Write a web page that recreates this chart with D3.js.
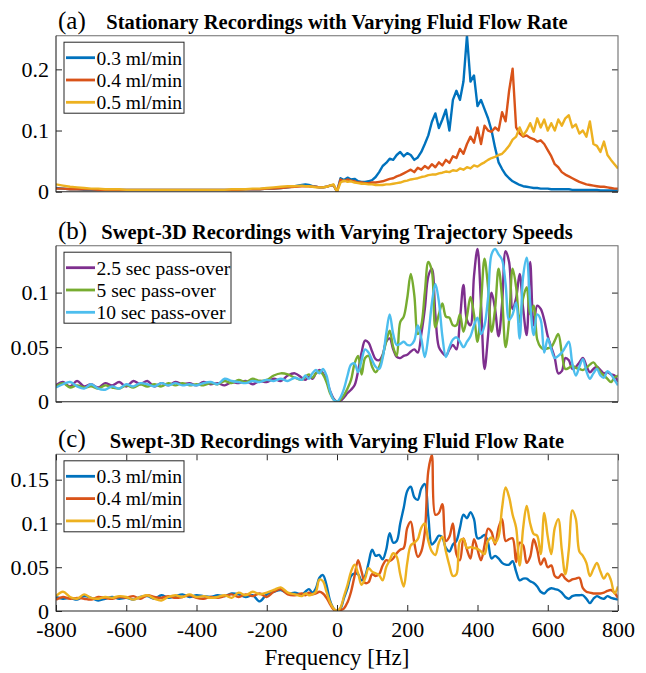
<!DOCTYPE html>
<html lang="en">
  <head>
    <meta charset="UTF-8" />
    <title>Spectra of recordings</title>
    <script src="https://d3js.org/d3.v7.min.js"></script>
    <style>
      body {
        margin: 0;
        background: #fff;
      }
      svg text {
        font-family: "Liberation Serif", "Times New Roman", serif;
        fill: #000;
      }
      .tick line {
        stroke: #262626;
      }
    </style>
  </head>
  <body>
    <div id="chart"></div>

    <script>
      // sample grid: 20 Hz steps on the flat negative side, 10 Hz from -90 Hz on
      const freq = d3.range(-800, -99, 20).concat(d3.range(-90, 801, 10));
      const xTicks = [-800, -600, -400, -200, 0, 200, 400, 600, 800];

      const flowNames = ["0.3 ml/min", "0.4 ml/min", "0.5 ml/min"];
      const speedNames = ["2.5 sec pass-over", "5 sec pass-over", "10 sec pass-over"];

      // (a) stationary, flow rate
      const stat03 = [
        0.006,0.005,0.004,0.004,0.003,0.003,0.003,0.003,0.003,0.003,
        0.003,0.003,0.003,0.003,0.003,0.003,0.003,0.003,0.003,0.003,
        0.003,0.003,0.003,0.003,0.003,0.003,0.003,0.004,0.004,0.004,
        0.005,0.005,0.006,0.007,0.009,0.011,
        0.012,0.011,0.009,0.008,0.007,0.007,0.008,0.010,0.011,
        0.000,0.022,0.019,0.023,0.020,0.021,0.017,0.016,0.016,0.017,
        0.019,0.024,0.032,0.042,0.047,0.054,0.052,0.060,0.065,0.058,
        0.063,0.060,0.052,0.056,0.065,0.078,0.092,0.114,0.128,0.104,
        0.118,0.134,0.100,0.150,0.165,0.150,0.180,0.255,0.180,0.190,
        0.140,0.150,0.135,0.120,0.100,0.072,0.048,0.037,0.028,0.022,
        0.017,0.014,0.011,0.009,0.008,0.007,0.006,0.006,0.005,0.005,
        0.005,0.004,0.004,0.004,0.004,0.004,0.004,0.003,0.003,0.003,
        0.003,0.003,0.003,0.003,0.003,0.002,0.002,0.002,0.002,0.002,
        0.002
      ];
      const stat04 = [
        0.005,0.005,0.004,0.004,0.004,0.004,0.003,0.003,0.003,0.003,
        0.003,0.003,0.003,0.003,0.003,0.003,0.003,0.003,0.003,0.003,
        0.003,0.003,0.003,0.003,0.003,0.003,0.003,0.004,0.004,0.004,
        0.005,0.005,0.006,0.007,0.008,0.009,
        0.009,0.009,0.008,0.008,0.007,0.007,0.008,0.010,0.011,
        0.000,0.020,0.017,0.020,0.018,0.017,0.015,0.015,0.014,0.014,
        0.015,0.015,0.016,0.017,0.019,0.021,0.022,0.025,0.027,0.030,
        0.033,0.036,0.032,0.039,0.036,0.042,0.038,0.045,0.040,0.048,
        0.043,0.052,0.047,0.058,0.055,0.070,0.062,0.078,0.090,0.080,
        0.105,0.078,0.108,0.100,0.098,0.105,0.100,0.130,0.115,0.165,
        0.201,0.105,0.095,0.090,0.092,0.088,0.086,0.082,0.084,0.078,
        0.068,0.058,0.045,0.040,0.032,0.028,0.025,0.022,0.019,0.016,
        0.014,0.012,0.011,0.010,0.009,0.008,0.008,0.007,0.006,0.005,
        0.005
      ];
      const stat05 = [
        0.012,0.010,0.008,0.007,0.006,0.005,0.005,0.004,0.004,0.004,
        0.003,0.003,0.003,0.003,0.003,0.003,0.003,0.003,0.003,0.003,
        0.003,0.003,0.003,0.003,0.003,0.004,0.004,0.004,0.005,0.005,
        0.006,0.007,0.008,0.009,0.009,0.010,
        0.009,0.009,0.008,0.007,0.007,0.007,0.008,0.010,0.012,
        0.000,0.015,0.018,0.016,0.017,0.015,0.014,0.013,0.013,0.012,
        0.012,0.011,0.011,0.011,0.012,0.012,0.013,0.014,0.015,0.017,
        0.018,0.020,0.021,0.022,0.024,0.025,0.027,0.028,0.028,0.030,
        0.031,0.033,0.032,0.035,0.034,0.038,0.036,0.040,0.038,0.043,
        0.041,0.045,0.048,0.052,0.055,0.057,0.060,0.062,0.068,0.075,
        0.085,0.090,0.105,0.092,0.100,0.112,0.098,0.120,0.105,0.118,
        0.100,0.112,0.100,0.118,0.108,0.120,0.125,0.105,0.110,0.095,
        0.100,0.090,0.115,0.078,0.075,0.065,0.082,0.060,0.052,0.045,
        0.038
      ];

      // (b) swept-3D, trajectory speed
      const swept25s = [
        0.015,0.018,0.014,0.019,0.014,0.016,0.013,0.017,0.015,0.018,
        0.014,0.019,0.016,0.019,0.014,0.017,0.015,0.018,0.016,0.017,
        0.015,0.018,0.016,0.017,0.015,0.018,0.017,0.019,0.016,0.019,
        0.018,0.021,0.019,0.024,0.026,0.022,
        0.020,0.023,0.021,0.026,0.029,0.026,0.020,0.010,0.003,
        0.000,0.001,0.004,0.008,0.011,0.015,0.028,0.045,0.056,0.054,
        0.046,0.039,0.038,0.043,0.055,0.058,0.048,0.041,0.040,0.042,
        0.043,0.046,0.048,0.045,0.062,0.085,0.115,0.122,0.080,0.050,
        0.045,0.042,0.048,0.052,0.048,0.075,0.107,0.075,0.070,0.115,
        0.140,0.090,0.030,0.060,0.100,0.085,0.060,0.090,0.138,0.128,
        0.085,0.095,0.117,0.085,0.061,0.128,0.070,0.088,0.085,0.075,
        0.060,0.050,0.040,0.026,0.028,0.040,0.038,0.030,0.032,0.036,
        0.040,0.033,0.027,0.030,0.032,0.029,0.026,0.027,0.025,0.024,
        0.018
      ];
      const swept5s = [
        0.014,0.017,0.013,0.015,0.013,0.014,0.012,0.015,0.013,0.012,
        0.015,0.013,0.016,0.014,0.016,0.014,0.017,0.015,0.017,0.015,
        0.016,0.015,0.017,0.016,0.019,0.017,0.020,0.018,0.021,0.019,
        0.020,0.024,0.026,0.025,0.022,0.020,
        0.023,0.025,0.022,0.026,0.028,0.025,0.018,0.008,0.002,
        0.000,0.002,0.006,0.012,0.020,0.035,0.042,0.025,0.040,0.042,
        0.032,0.027,0.032,0.042,0.055,0.065,0.050,0.042,0.073,0.078,
        0.095,0.117,0.098,0.062,0.070,0.100,0.128,0.120,0.068,0.080,
        0.090,0.078,0.077,0.070,0.070,0.080,0.064,0.078,0.096,0.080,
        0.055,0.090,0.131,0.105,0.064,0.085,0.122,0.095,0.050,0.075,
        0.122,0.105,0.073,0.095,0.105,0.080,0.088,0.057,0.050,0.048,
        0.049,0.050,0.056,0.062,0.045,0.030,0.031,0.033,0.031,0.030,
        0.029,0.031,0.034,0.036,0.032,0.027,0.024,0.021,0.018,0.022,
        0.024
      ];
      const swept10s = [
        0.013,0.016,0.018,0.014,0.012,0.016,0.012,0.011,0.014,0.012,
        0.016,0.014,0.017,0.016,0.014,0.017,0.015,0.017,0.015,0.016,
        0.015,0.017,0.018,0.016,0.021,0.019,0.018,0.017,0.019,0.018,
        0.020,0.019,0.021,0.019,0.022,0.020,
        0.024,0.021,0.026,0.029,0.026,0.030,0.024,0.010,0.002,
        0.000,0.004,0.012,0.024,0.034,0.035,0.027,0.038,0.048,0.045,
        0.038,0.032,0.030,0.040,0.062,0.080,0.062,0.052,0.053,0.055,
        0.052,0.052,0.056,0.070,0.058,0.041,0.060,0.090,0.108,0.092,
        0.060,0.041,0.050,0.057,0.059,0.055,0.050,0.055,0.060,0.070,
        0.077,0.062,0.070,0.095,0.135,0.140,0.135,0.130,0.108,0.075,
        0.080,0.091,0.058,0.115,0.132,0.090,0.061,0.080,0.075,0.045,
        0.058,0.048,0.040,0.042,0.045,0.050,0.055,0.035,0.024,0.032,
        0.039,0.028,0.021,0.026,0.030,0.024,0.022,0.028,0.025,0.020,
        0.015
      ];

      // (c) swept-3D, flow rate
      const swept03 = [
        0.016,0.014,0.015,0.013,0.017,0.015,0.012,0.014,0.016,0.014,
        0.015,0.013,0.016,0.017,0.014,0.018,0.015,0.017,0.019,0.016,
        0.018,0.017,0.016,0.018,0.017,0.020,0.019,0.016,0.018,0.011,
        0.019,0.022,0.024,0.020,0.021,0.019,
        0.022,0.025,0.021,0.026,0.038,0.041,0.030,0.012,0.003,
        0.000,0.003,0.015,0.026,0.040,0.043,0.042,0.035,0.040,0.055,
        0.070,0.063,0.064,0.059,0.070,0.089,0.078,0.080,0.100,0.118,
        0.137,0.142,0.130,0.127,0.140,0.145,0.108,0.076,0.080,0.086,
        0.084,0.072,0.068,0.076,0.080,0.095,0.110,0.106,0.113,0.105,
        0.083,0.084,0.087,0.078,0.060,0.063,0.060,0.055,0.053,0.053,
        0.057,0.045,0.035,0.037,0.037,0.034,0.032,0.028,0.022,0.020,
        0.024,0.026,0.025,0.024,0.021,0.016,0.014,0.017,0.018,0.018,
        0.018,0.014,0.009,0.014,0.017,0.015,0.014,0.017,0.015,0.014,
        0.013
      ];
      const swept04 = [
        0.013,0.016,0.014,0.015,0.014,0.013,0.016,0.015,0.014,0.016,
        0.015,0.017,0.014,0.018,0.016,0.015,0.017,0.015,0.016,0.018,
        0.015,0.014,0.016,0.015,0.017,0.019,0.016,0.019,0.017,0.020,
        0.016,0.022,0.025,0.019,0.018,0.020,
        0.018,0.021,0.019,0.020,0.022,0.020,0.015,0.008,0.002,
        0.000,0.001,0.003,0.010,0.022,0.040,0.058,0.045,0.032,0.033,
        0.042,0.040,0.042,0.052,0.058,0.057,0.060,0.066,0.070,0.072,
        0.095,0.102,0.078,0.062,0.068,0.090,0.160,0.178,0.110,0.112,
        0.122,0.080,0.085,0.100,0.065,0.058,0.083,0.070,0.060,0.082,
        0.070,0.058,0.075,0.094,0.090,0.076,0.095,0.105,0.080,0.082,
        0.083,0.056,0.078,0.075,0.055,0.062,0.082,0.070,0.053,0.060,
        0.050,0.052,0.040,0.038,0.042,0.037,0.034,0.036,0.037,0.038,
        0.026,0.022,0.021,0.020,0.020,0.020,0.021,0.023,0.024,0.021,
        0.015
      ];
      const swept05 = [
        0.017,0.022,0.016,0.014,0.019,0.015,0.014,0.016,0.015,0.017,
        0.016,0.013,0.016,0.018,0.014,0.012,0.016,0.018,0.016,0.019,
        0.016,0.017,0.015,0.016,0.018,0.015,0.021,0.018,0.022,0.019,
        0.021,0.024,0.027,0.021,0.019,0.017,
        0.020,0.018,0.019,0.022,0.036,0.034,0.022,0.010,0.003,
        0.000,0.004,0.017,0.030,0.045,0.053,0.043,0.030,0.037,0.049,
        0.045,0.043,0.041,0.035,0.050,0.058,0.066,0.062,0.042,0.028,
        0.055,0.075,0.078,0.082,0.095,0.100,0.080,0.068,0.064,0.078,
        0.085,0.068,0.052,0.040,0.042,0.080,0.082,0.072,0.073,0.072,
        0.071,0.068,0.065,0.080,0.084,0.078,0.085,0.118,0.141,0.130,
        0.110,0.095,0.052,0.095,0.120,0.100,0.088,0.086,0.065,0.112,
        0.085,0.065,0.095,0.105,0.070,0.042,0.070,0.115,0.105,0.068,
        0.063,0.055,0.040,0.048,0.055,0.045,0.037,0.043,0.035,0.020,
        0.028
      ];

      const flowColors = ["#0072BD", "#D95319", "#EDB120"];
      const speedColors = ["#7E2F8E", "#77AC30", "#4DBEEE"];

      const width = 646;
      const height = 673;
      const left = 56;
      const right = 618;

      const panels = [
        {
          tag: "(a)",
          title: "Stationary Recordings with Varying Fluid Flow Rate",
          top: 35.7, bottom: 191.7, yMax: 0.255,
          yTicks: [0, 0.1, 0.2],
          series: [stat03, stat04, stat05],
          names: flowNames, colors: flowColors,
          curve: d3.curveLinear, legendW: 120, showX: false,
        },
        {
          tag: "(b)",
          title: "Swept-3D Recordings with Varying Trajectory Speeds",
          top: 245.7, bottom: 401.7, yMax: 0.143,
          yTicks: [0, 0.05, 0.1],
          series: [swept25s, swept5s, swept10s],
          names: speedNames, colors: speedColors,
          curve: d3.curveCatmullRom.alpha(0.5), legendW: 167, showX: false,
        },
        {
          tag: "(c)",
          title: "Swept-3D Recordings with Varying Fluid Flow Rate",
          top: 454.3, bottom: 611, yMax: 0.179,
          yTicks: [0, 0.05, 0.1, 0.15],
          series: [swept03, swept04, swept05],
          names: flowNames, colors: flowColors,
          curve: d3.curveCatmullRom.alpha(0.5), legendW: 120, showX: true,
        },
      ];

      const svg = d3
        .select("#chart")
        .append("svg")
        .attr("width", width)
        .attr("height", height)
        .attr("viewBox", [0, 0, width, height]);

      svg.append("rect").attr("width", width).attr("height", height).attr("fill", "#fff");

      const x = d3.scaleLinear().domain([-800, 800]).range([left, right]);

      panels.forEach((p, pi) => {
        const y = d3.scaleLinear().domain([0, p.yMax]).range([p.bottom, p.top]);
        const g = svg.append("g");

        const clipId = "clip" + pi;
        g.append("clipPath")
          .attr("id", clipId)
          .append("rect")
          .attr("x", left)
          .attr("y", p.top)
          .attr("width", right - left)
          .attr("height", p.bottom - p.top);

        const line = d3
          .line()
          .x((d, i) => x(freq[i]))
          .y((d) => y(d))
          .curve(p.curve);

        g.append("g")
          .attr("clip-path", `url(#${clipId})`)
          .selectAll("path")
          .data(p.series)
          .join("path")
          .attr("d", line)
          .attr("fill", "none")
          .attr("stroke", (d, i) => p.colors[i])
          .attr("stroke-width", 2.4)
          .attr("stroke-linejoin", "round");

        // y axes, ticks pointing inward on both sides
        g.append("g")
          .attr("transform", `translate(${left},0)`)
          .call(d3.axisLeft(y).tickValues(p.yTicks).tickSize(-6).tickPadding(7).tickFormat(d3.format("~g")))
          .call((a) => a.select(".domain").remove())
          .call((a) => a.selectAll("text").attr("font-size", 22));
        g.append("g")
          .attr("transform", `translate(${right},0)`)
          .call(d3.axisRight(y).tickValues(p.yTicks).tickSize(-6).tickFormat(""))
          .call((a) => a.select(".domain").remove());

        if (p.showX) {
          g.append("g")
            .attr("transform", `translate(0,${p.bottom})`)
            .call(d3.axisBottom(x).tickValues(xTicks).tickSize(-6).tickPadding(10.5).tickFormat((d) => String(d)))
            .call((a) => a.select(".domain").remove())
            .call((a) => a.selectAll("text").attr("font-size", 22));
          g.append("g")
            .attr("transform", `translate(0,${p.top})`)
            .call(d3.axisTop(x).tickValues(xTicks).tickSize(-6).tickFormat(""))
            .call((a) => a.select(".domain").remove());
        }

        // box
        g.append("path")
          .attr("d", `M${left},${p.top}H${right}V${p.bottom}`)
          .attr("fill", "none")
          .attr("stroke", "#6e6e6e")
          .attr("stroke-width", 1.1);
        g.append("path")
          .attr("d", `M${left},${p.top}V${p.bottom}H${right}`)
          .attr("fill", "none")
          .attr("stroke", "#262626")
          .attr("stroke-width", 1.1);

        // titles
        g.append("text")
          .attr("x", 58)
          .attr("y", p.top - 7)
          .attr("font-size", 25)
          .text(p.tag);
        g.append("text")
          .attr("x", (left + right) / 2)
          .attr("y", p.top - 6.3)
          .attr("text-anchor", "middle")
          .attr("font-size", 20.5)
          .attr("font-weight", "bold")
          .text(p.title);

        // legend
        const lg = g.append("g").attr("transform", `translate(${left + 8},${p.top + 6.5})`);
        lg.append("rect")
          .attr("width", p.legendW)
          .attr("height", 71)
          .attr("fill", "#fff")
          .attr("stroke", "#262626")
          .attr("stroke-width", 1);
        const item = lg
          .selectAll("g.item")
          .data(p.names)
          .join("g")
          .attr("class", "item")
          .attr("transform", (d, i) => `translate(0,${15.5 + i * 22.3})`);
        item
          .append("line")
          .attr("x1", 2)
          .attr("x2", 31)
          .attr("stroke", (d, i) => p.colors[i])
          .attr("stroke-width", 2.8);
        item
          .append("text")
          .attr("x", 32.5)
          .attr("dy", "0.35em")
          .attr("font-size", 19.5)
          .text((d) => d);
      });

      svg
        .append("text")
        .attr("x", (left + right) / 2)
        .attr("y", 665)
        .attr("text-anchor", "middle")
        .attr("font-size", 23)
        .text("Frequency [Hz]");
    </script>
  </body>
</html>
